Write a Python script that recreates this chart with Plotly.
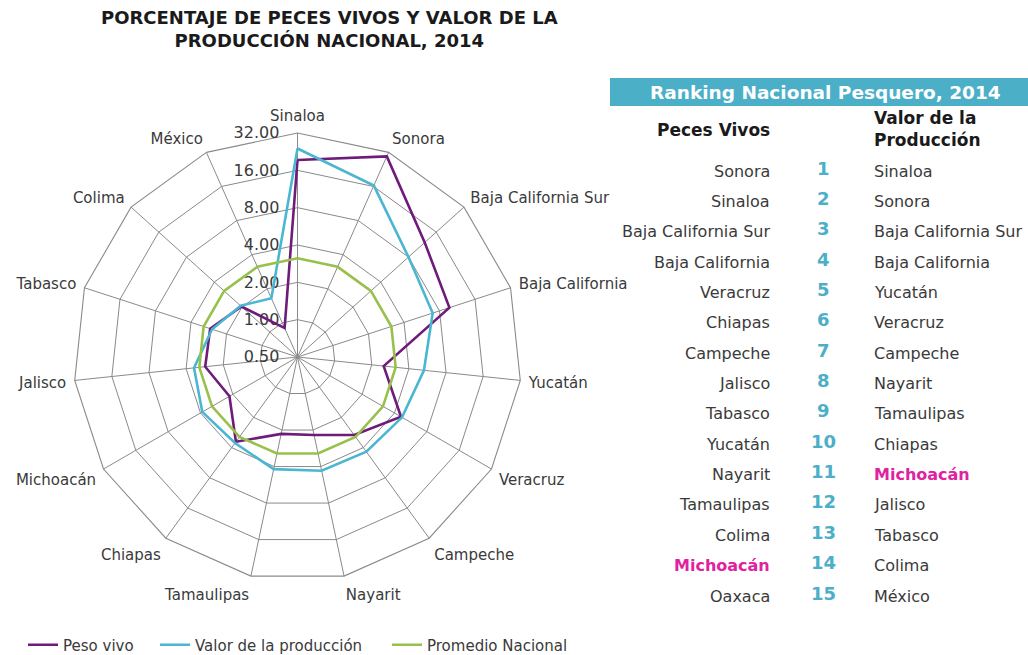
import math
import plotly.graph_objects as go

# ---------------- data ----------------
categories = ["Sinaloa", "Sonora", "Baja California Sur", "Baja California", "Yucatán",
              "Veracruz", "Campeche", "Nayarit", "Tamaulipas", "Chiapas", "Michoacán",
              "Jalisco", "Tabasco", "Colima", "México"]
peso_vivo = [19.4, 29.5, 12.0, 9.7, 2.5, 4.6, 3.0, 2.2, 2.15, 3.5, 2.15, 2.8, 2.75, 2.03, 0.9]
valor_produccion = [24.0, 16.3, 8.0, 7.0, 5.3, 4.7, 4.4, 4.33, 4.2, 3.6, 3.85, 3.45, 2.65, 2.07, 1.65]
promedio_nacional = [3.125] * len(categories)

radial_ticks = [0.5, 1, 2, 4, 8, 16, 32]
radial_ticktext = ["0.50", "1.00", "2.00", "4.00", "8.00", "16.00", "32.00"]

ranking_positions = list(range(1, 16))
ranking_peces_vivos = ["Sonora", "Sinaloa", "Baja California Sur", "Baja California", "Veracruz",
                       "Chiapas", "Campeche", "Jalisco", "Tabasco", "Yucatán", "Nayarit",
                       "Tamaulipas", "Colima", "Michoacán", "Oaxaca"]
ranking_valor = ["Sinaloa", "Sonora", "Baja California Sur", "Baja California", "Yucatán",
                 "Veracruz", "Campeche", "Nayarit", "Tamaulipas", "Chiapas", "Michoacán",
                 "Jalisco", "Tabasco", "Colima", "México"]
highlight_state = "Michoacán"

# ---------------- style ----------------
W, H = 1028, 655
FONT = "DejaVu Sans"
TXT = "#3a3a3a"
GRID = "#8a8a8a"
C_PURPLE = "#6E1B7A"
C_BLUE = "#4BB6D2"
C_GREEN = "#98C14C"
C_BANNER = "#4CAFC8"
C_MAGENTA = "#E0229F"


def px(x):
    return x / W


def py(y):
    return 1 - y / H


fig = go.Figure()
cat_closed = categories + [categories[0]]
series = [("Peso vivo", peso_vivo, C_PURPLE, "legend"),
          ("Valor de la producción", valor_produccion, C_BLUE, "legend2"),
          ("Promedio Nacional", promedio_nacional, C_GREEN, "legend3")]
for name, vals, col, lg in series:
    fig.add_trace(go.Scatterpolar(
        r=vals + [vals[0]], theta=cat_closed, mode="lines", name=name, legend=lg,
        line=dict(color=col, width=2.6), hoverinfo="skip"))

legend_font = dict(family=FONT, size=15, color=TXT)


def legend_at(xpix):
    return dict(orientation="h", x=px(xpix), xanchor="left", y=py(645), yanchor="middle",
                font=legend_font, itemwidth=30, bgcolor="rgba(0,0,0,0)")


cx, cy, R = 297.5, 357, 224
fig.update_layout(
    width=W, height=H,
    margin=dict(l=0, r=0, t=0, b=0, autoexpand=False),
    paper_bgcolor="white",
    font=dict(family=FONT, color=TXT, size=14),
    showlegend=True,
    legend=legend_at(23),
    legend2=legend_at(155),
    legend3=legend_at(387),
    polar=dict(
        domain=dict(x=[px(cx - R), px(cx + R)], y=[py(cy + R), py(cy - R)]),
        gridshape="linear",
        bgcolor="white",
        angularaxis=dict(rotation=90, direction="clockwise", showline=True,
                         linecolor=GRID, linewidth=1.1, gridcolor=GRID, gridwidth=1.1,
                         ticks="outside", ticklen=5, tickcolor="rgba(0,0,0,0)",
                         tickfont=dict(family=FONT, size=15, color=TXT),
                         layer="below traces"),
        radialaxis=dict(type="log", range=[math.log10(0.5), math.log10(32)],
                        tickvals=radial_ticks, ticktext=radial_ticktext,
                        angle=90, tickangle=90, side="counterclockwise",
                        showline=False, gridcolor=GRID, gridwidth=1.1,
                        ticks="outside", ticklen=12, tickcolor="rgba(0,0,0,0)",
                        tickfont=dict(family=FONT, size=16, color=TXT),
                        layer="below traces"),
    ),
)

ann = []
# title
ann.append(dict(text="<b>PORCENTAJE DE PECES VIVOS Y VALOR DE LA<br>PRODUCCIÓN NACIONAL, 2014</b>",
                x=px(329), y=py(29), xref="paper", yref="paper", xanchor="center",
                yanchor="middle", showarrow=False,
                font=dict(family=FONT, size=18, color="#1a1a1a"), align="center"))

# ranking table
fig.add_shape(type="rect", xref="paper", yref="paper", x0=px(610), x1=1.0,
              y0=py(106), y1=py(78), fillcolor=C_BANNER, line=dict(width=0), layer="below")
ann.append(dict(text="<b>Ranking Nacional Pesquero, 2014</b>", x=px(825), y=py(92),
                xref="paper", yref="paper", xanchor="center", yanchor="middle",
                showarrow=False, font=dict(family=FONT, size=18.5, color="white")))
ann.append(dict(text="<b>Peces Vivos</b>", x=px(655), y=py(130), xref="paper", yref="paper",
                xanchor="left", yanchor="middle", showarrow=False,
                font=dict(family=FONT, size=17, color="#1a1a1a")))
ann.append(dict(text="<b>Valor de la<br>Producción</b>", x=px(872), y=py(129.5), xref="paper",
                yref="paper", xanchor="left", yanchor="middle", align="left", showarrow=False,
                font=dict(family=FONT, size=17, color="#1a1a1a")))

y0, dy = 171, 30.36
for i, (pos, a, b) in enumerate(zip(ranking_positions, ranking_peces_vivos, ranking_valor)):
    yy = y0 + i * dy
    for name, xx, anchor in [(a, 772, "right"), (b, 872, "left")]:
        hl = name == highlight_state
        ann.append(dict(text=f"<b>{name}</b>" if hl else name, x=px(xx), y=py(yy),
                        xref="paper", yref="paper", xanchor=anchor, yanchor="middle",
                        showarrow=False,
                        font=dict(family=FONT, size=16, color=C_MAGENTA if hl else TXT)))
    ann.append(dict(text=f"<b>{pos}</b>", x=px(823), y=py(yy - 3), xref="paper", yref="paper",
                    xanchor="center", yanchor="middle", showarrow=False,
                    font=dict(family=FONT, size=18, color=C_BANNER)))

fig.update_layout(annotations=ann)
fig.write_html("out.html", config={"displayModeBar": False},
               post_script="document.body.style.margin='0px';")
